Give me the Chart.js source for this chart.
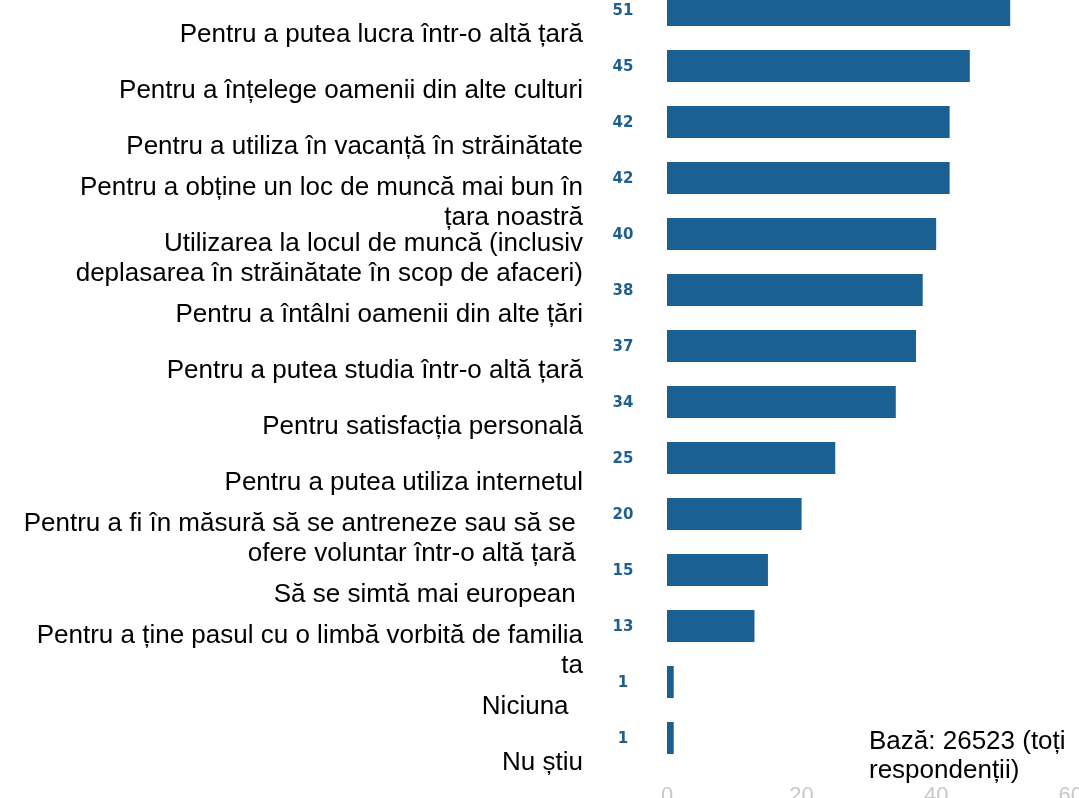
<!DOCTYPE html>
<html lang="ro">
<head>
<meta charset="utf-8">
<title>Motive pentru a învăța o limbă străină</title>
<script src="https://cdn.jsdelivr.net/npm/chart.js@4.4.1/dist/chart.umd.min.js"></script>
<style>
  html, body { margin: 0; padding: 0; background: #ffffff; overflow: hidden; width: 1079px; height: 798px; }
  #wrap { position: absolute; left: 0; top: -40px; width: 1100px; height: 856px; }
  #note {
    position: absolute; left: 869px; top: 726px;
    font-family: "Liberation Sans", Arial, sans-serif; font-size: 26px; line-height: 29px;
    color: #000000; white-space: nowrap;
  }
</style>
</head>
<body>
<div id="wrap"><canvas id="chart" width="1100" height="856"></canvas></div>
<div id="note">Bază: 26523 (toți<br>respondenții)</div>
<script>
// Motive (răspunsuri multiple), % din respondenți
const categories = [
  "Pentru a putea lucra într-o altă țară",
  "Pentru a înțelege oamenii din alte culturi",
  "Pentru a utiliza în vacanță în străinătate",
  ["Pentru a obține un loc de muncă mai bun în", "țara noastră"],
  ["Utilizarea la locul de muncă (inclusiv", "deplasarea în străinătate în scop de afaceri)"],
  "Pentru a întâlni oamenii din alte țări",
  "Pentru a putea studia într-o altă țară",
  "Pentru satisfacția personală",
  "Pentru a putea utiliza internetul",
  ["Pentru a fi în măsură să se antreneze sau să se ", "ofere voluntar într-o altă țară "],
  "Să se simtă mai european ",
  ["Pentru a ține pasul cu o limbă vorbită de familia", "ta"],
  "Niciuna  ",
  "Nu știu"
];
const values = [51, 45, 42, 42, 40, 38, 37, 34, 25, 20, 15, 13, 1, 1];
const axisMin = 0;
const axisMax = 60;
const axisStep = 20;

const BAR_COLOR = "#1b6092";
const VALUE_COLOR = "#1f5f8f";

// Small bold value next to each bar, between the category label and the bar
const valueLabels = {
  id: "valueLabels",
  afterDatasetsDraw(chart) {
    const { ctx, chartArea } = chart;
    const meta = chart.getDatasetMeta(0);
    ctx.save();
    ctx.font = "bold 15px 'DejaVu Sans', sans-serif";
    ctx.fillStyle = VALUE_COLOR;
    ctx.textAlign = "center";
    ctx.textBaseline = "middle";
    meta.data.forEach((bar, i) => {
      ctx.fillText(String(values[i]), chartArea.left - 44, bar.y + 1);
    });
    ctx.restore();
  }
};

new Chart(document.getElementById("chart"), {
  type: "bar",
  data: {
    labels: categories,
    datasets: [{
      data: values,
      backgroundColor: BAR_COLOR,
      borderWidth: 0,
      barPercentage: 0.57,
      categoryPercentage: 1
    }]
  },
  options: {
    indexAxis: "y",
    responsive: false,
    animation: false,
    devicePixelRatio: 1,
    layout: { padding: { top: 22, right: 24, bottom: 0, left: 0 } },
    plugins: {
      legend: { display: false },
      tooltip: { enabled: false }
    },
    scales: {
      y: {
        type: "category",
        grid: { display: false, drawTicks: false },
        border: { display: false },
        ticks: {
          autoSkip: false,
          padding: 84,
          labelOffset: 25,
          color: "#000000",
          font: { family: "'Liberation Sans', Arial, sans-serif", size: 26, lineHeight: 1.13 }
        },
        afterFit(scale) {
          // fixed label column; labels may overflow the plot edges
          scale.width = 667;
          scale.paddingTop = 0;
          scale.paddingBottom = 0;
        }
      },
      x: {
        min: axisMin,
        max: axisMax,
        grid: { display: false, drawTicks: false },
        border: { display: false },
        ticks: {
          stepSize: axisStep,
          padding: 17,
          color: "#c8c8c8",
          font: { family: "'Liberation Sans', Arial, sans-serif", size: 22 }
        },
        afterFit(scale) { scale.height = 50; }
      }
    }
  },
  plugins: [valueLabels]
});
</script>
</body>
</html>
